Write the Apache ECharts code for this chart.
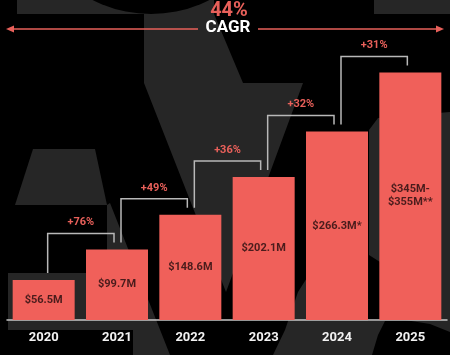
<!DOCTYPE html>
<html>
<head>
<meta charset="utf-8">
<script src="https://cdn.jsdelivr.net/npm/echarts@6/dist/echarts.min.js"></script>
<style>
html,body{margin:0;padding:0;background:#000;}
#c{width:450px;height:355px;}
</style>
</head>
<body>
<div id="c"></div>
<script>
var years = ['2020', '2021', '2022', '2023', '2024', '2025'];
var values = [56.5, 99.7, 148.6, 202.1, 266.3, 350];
var valueLabels = ['$56.5M', '$99.7M', '$148.6M', '$202.1M', '$266.3M*', '$345M-\n$355M**'];
var growth = ['+76%', '+49%', '+36%', '+32%', '+31%'];
var cagrValue = '44%';
var cagrText = 'CAGR';

var GRAY = '#262626';
var RED = '#e8605a';
var chart = echarts.init(document.getElementById('c'), null, {renderer: 'canvas'});

var bg = [
  {type: 'rect', shape: {x: 17, y: 0, width: 197, height: 14}, style: {fill: GRAY}},
  {type: 'circle', shape: {cx: 151, cy: -115, r: 129}, style: {fill: '#000'}},
  {type: 'rect', shape: {x: 374, y: 0, width: 76, height: 14}, style: {fill: GRAY}},
  {type: 'polygon', shape: {points: [[144,14],[214,14],[243,83],[303,83],[226,292],[144,83]]}, style: {fill: GRAY}},
  {type: 'polygon', shape: {points: [[33,149],[95,149],[107,205],[15,205]]}, style: {fill: GRAY}},
  {type: 'polygon', shape: {points: [[107,205],[110,203],[170,355],[133,355],[133,330],[8,330],[8,273],[107,273]]}, style: {fill: GRAY}},
  {type: 'polygon', shape: {points: [[369,130],[378,118],[450,112],[450,332],[430,324],[405,320],[380,320],[380,262],[369,255]]}, style: {fill: GRAY}},
  {type: 'polygon', shape: {points: [[273,355],[285,330],[298,292],[312,270],[340,257],[368,262],[368,321],[385,321],[378,335],[372,355]]}, style: {fill: GRAY}}
];
bg.forEach(function (e) { e.z = -10; e.silent = true; });

var header = [
  {type: 'text', style: {text: cagrValue, x: 229, y: 11, align: 'center', verticalAlign: 'middle', fill: RED, font: 'bold 20px Roboto'}},
  {type: 'text', style: {text: cagrText, x: 228, y: 28, align: 'center', verticalAlign: 'middle', fill: '#ffffff', font: 'bold 17px Roboto'}},
  {type: 'line', shape: {x1: 12, y1: 29, x2: 198, y2: 29}, style: {stroke: RED, lineWidth: 1.5}},
  {type: 'polygon', shape: {points: [[6,29],[14,25.5],[14,32.5]]}, style: {fill: RED}},
  {type: 'line', shape: {x1: 258, y1: 29, x2: 438, y2: 29}, style: {stroke: RED, lineWidth: 1.5}},
  {type: 'polygon', shape: {points: [[444,29],[436,25.5],[436,32.5]]}, style: {fill: RED}}
];

chart.setOption({
  backgroundColor: '#000',
  animation: false,
  graphic: bg.concat(header),
  grid: {left: 7, right: 3, top: 37, bottom: 35, containLabel: false},
  xAxis: {
    type: 'category',
    data: years,
    axisLine: {show: true, lineStyle: {color: '#c8c8c8', width: 1.5}},
    axisTick: {show: false},
    axisLabel: {color: '#f2f2f2', fontFamily: 'Roboto', fontWeight: 'bold', fontSize: 13, margin: 11}
  },
  yAxis: {type: 'value', min: 0, max: 400, show: false, splitLine: {show: false}},
  series: [
    {
      type: 'bar',
      data: values,
      barWidth: 62,
      itemStyle: {color: '#f0605a'},
      label: {
        show: true,
        position: 'inside',
        formatter: function (p) { return valueLabels[p.dataIndex]; },
        color: '#4a1c1c',
        fontFamily: 'Roboto',
        fontWeight: 'bold',
        fontSize: 11,
        lineHeight: 13
      }
    },
    {
      type: 'custom',
      clip: false,
      encode: {x: 0, y: [1, 2]},
      data: growth.map(function (g, i) { return [i, values[i], values[i + 1]]; }),
      renderItem: function (params, api) {
        var i = api.value(0);
        var a = api.coord([i, api.value(1)]);
        var b = api.coord([i + 1, api.value(2)]);
        var top = b[1] - 16;
        var x1 = a[0] + 4, x2 = b[0] - 3;
        return {
          type: 'group',
          children: [
            {type: 'polyline', shape: {points: [[x1, a[1] - 7], [x1, top], [x2, top], [x2, b[1] - 7]]},
             style: {stroke: '#b8b8b8', lineWidth: 1.5, fill: null}},
            {type: 'text', style: {text: growth[params.dataIndex], x: (x1 + x2) / 2, y: top - 11,
             align: 'center', verticalAlign: 'middle', fill: RED, font: 'bold 11px Roboto'}}
          ]
        };
      }
    }
  ]
});
</script>
</body>
</html>
